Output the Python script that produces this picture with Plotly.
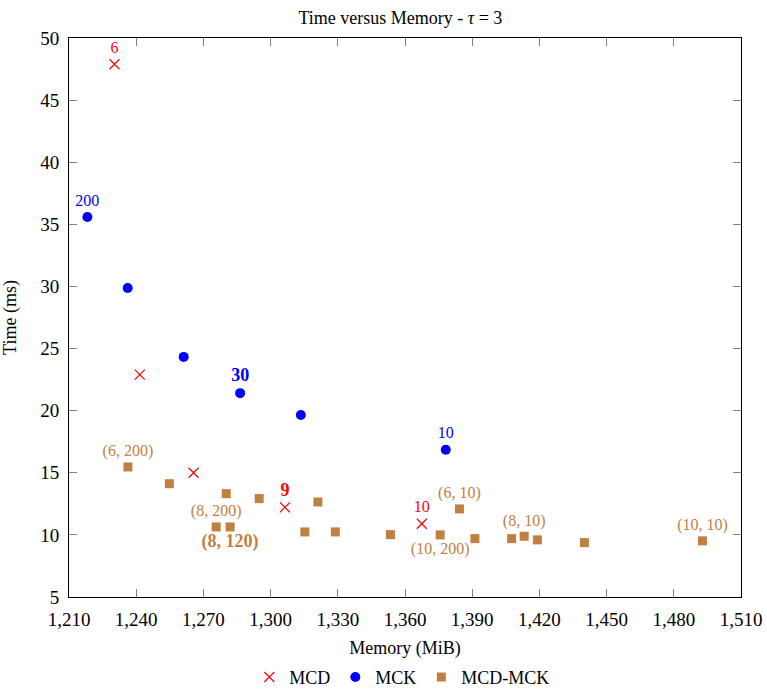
import plotly.graph_objects as go

# MCD (red crosses)
mcd_mem = [1230.3, 1241.6, 1265.6, 1306.4, 1367.5]
mcd_time = [47.89, 22.9, 15.0, 12.22, 10.9]
mcd_labels = ["6", "", "", "<b>9</b>", "10"]

# MCK (blue circles)
mck_mem = [1218.2, 1236.2, 1261.2, 1286.4, 1313.5, 1378.2]
mck_time = [35.59, 29.88, 24.33, 21.41, 19.65, 16.86]
mck_labels = ["200", "", "", "<b>30</b>", "", "10"]

# MCD-MCK (brown squares)
both_mem = [1236.3, 1254.8, 1280.2, 1294.9, 1321.1, 1275.7, 1281.9, 1315.3, 1328.9,
            1353.5, 1375.7, 1384.3, 1391.2, 1407.6, 1413.2, 1419.1, 1440.1, 1492.8]
both_time = [15.47, 14.12, 13.32, 12.92, 12.65, 10.64, 10.64, 10.24, 10.24,
             10.02, 10.0, 12.09, 9.70, 9.70, 9.89, 9.60, 9.38, 9.52]
both_labels = ["(6, 200)", "", "", "", "", "(8, 200)", "<b>(8, 120)</b>", "", "",
               "", "(10, 200)", "(6, 10)", "", "", "(8, 10)", "", "", "(10, 10)"]
both_pos = ["top center", "top center", "top center", "top center", "top center",
            "top center", "bottom center", "top center", "top center",
            "top center", "bottom center", "top center", "top center", "top center",
            "top center", "top center", "top center", "top center"]

x_ticks = list(range(1210, 1511, 30))
y_ticks = list(range(5, 51, 5))

RED = "#ff0000"
BLUE = "#0000ff"
BROWN = "#bf8040"
FONT = "Liberation Serif"

def sizes(labels, normal=16, bold=18):
    return [bold if l.startswith("<b>") else normal for l in labels]

fig = go.Figure()
fig.add_trace(go.Scatter(
    x=mcd_mem, y=mcd_time, mode="markers+text", name="MCD",
    marker=dict(symbol="x-thin-open", size=10, color=RED, line=dict(color=RED, width=1.2)),
    text=mcd_labels, textposition="top center",
    textfont=dict(color=RED, family=FONT, size=sizes(mcd_labels)),
))
fig.add_trace(go.Scatter(
    x=mck_mem, y=mck_time, mode="markers+text", name="MCK",
    marker=dict(symbol="circle", size=10, color=BLUE),
    text=mck_labels, textposition="top center",
    textfont=dict(color=BLUE, family=FONT, size=sizes(mck_labels)),
))
fig.add_trace(go.Scatter(
    x=both_mem, y=both_time, mode="markers+text", name="MCD-MCK",
    marker=dict(symbol="square", size=9, color=BROWN),
    text=both_labels, textposition=both_pos,
    textfont=dict(color=BROWN, family=FONT, size=sizes(both_labels)),
))

axis_common = dict(
    showline=True, linecolor="black", linewidth=1, mirror="ticks",
    ticks="inside", ticklen=8, tickcolor="#808080", tickwidth=1,
    showgrid=False, zeroline=False, automargin=False,
    tickfont=dict(family=FONT, size=19, color="black"),
)

fig.update_layout(
    width=767, height=689,
    margin=dict(l=69, r=26, t=38, b=92),
    paper_bgcolor="white", plot_bgcolor="white",
    font=dict(family=FONT, color="black"),
    title=dict(text="Time versus Memory - <i>τ</i> = 3", x=0.522, xanchor="center",
               y=0.975, yanchor="middle", font=dict(family=FONT, size=18)),
    showlegend=True,
    legend=dict(orientation="h", x=0.496, xanchor="center", yref="container",
                y=0.017, yanchor="middle",
                font=dict(family=FONT, size=18), itemwidth=30, tracegroupgap=0,
                bgcolor="rgba(0,0,0,0)"),
    xaxis=dict(range=[1210, 1510], tickvals=x_ticks, tickformat=",d", ticklabelstandoff=5,
               title=dict(text="Memory (MiB)", font=dict(family=FONT, size=18), standoff=13),
               **axis_common),
    yaxis=dict(range=[5, 50], tickvals=y_ticks, ticklabelstandoff=5,
               title=dict(text="Time (ms)", font=dict(family=FONT, size=18), standoff=18),
               **axis_common),
)

fig.write_html("out.html")
